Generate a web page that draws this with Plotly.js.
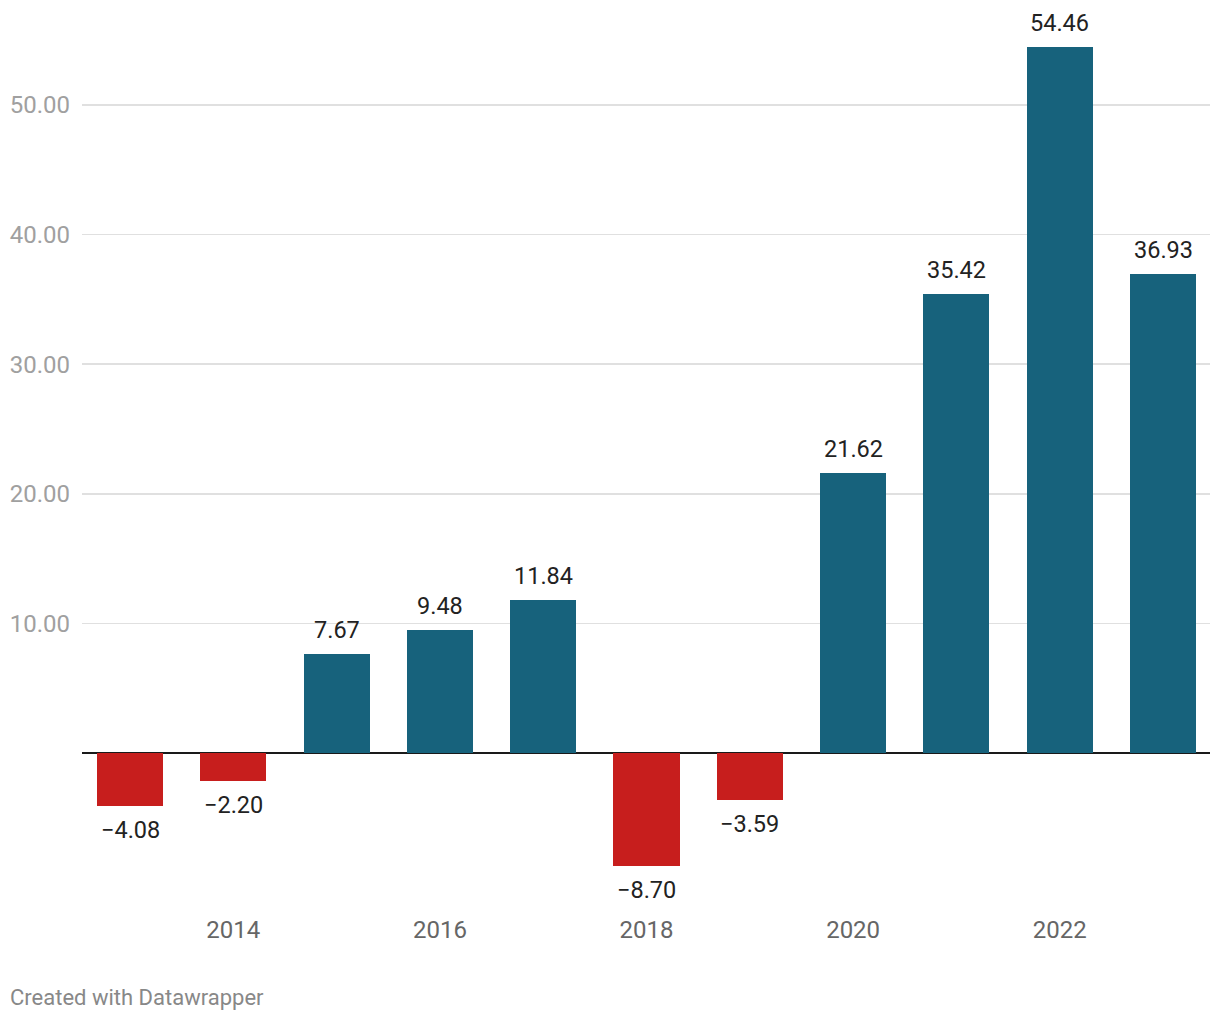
<!DOCTYPE html>
<html>
<head>
<meta charset="utf-8">
<script src="https://cdn.plot.ly/plotly-3.0.1.min.js"></script>
<style>
html,body{margin:0;padding:0;background:#fff;}
#chart{width:1220px;height:1020px;}
</style>
</head>
<body>
<div id="chart"></div>
<script>
const years = [2013, 2014, 2015, 2016, 2017, 2018, 2019, 2020, 2021, 2022, 2023];
const values = [-4.08, -2.20, 7.67, 9.48, 11.84, -8.70, -3.59, 21.62, 35.42, 54.46, 36.93];
const yTickVals = [10, 20, 30, 40, 50];
const yTickText = ["10.00", "20.00", "30.00", "40.00", "50.00"];
const xTickVals = [2014, 2016, 2018, 2020, 2022];
const xTickText = ["2014", "2016", "2018", "2020", "2022"];

const posColor = "#17627c";
const negColor = "#c71e1d";

const fmt = v => v.toFixed(2).replace("-", "\u2212");

const trace = {
  type: "bar",
  x: years,
  y: values,
  width: 0.64,
  marker: {color: values.map(v => v < 0 ? negColor : posColor)},
  hoverinfo: "x+y"
};

const annotations = years.map((yr, i) => ({
  x: yr,
  y: values[i],
  xref: "x",
  yref: "y",
  text: fmt(values[i]),
  showarrow: false,
  yanchor: values[i] < 0 ? "top" : "bottom",
  yshift: values[i] < 0 ? -8 : 8,
  font: {family: "Roboto, sans-serif", size: 23.5, color: "#222"}
}));

annotations.push({
  xref: "paper", yref: "paper",
  x: (8 - 82) / 1128, y: -(997 - 905) / 895,
  xanchor: "left", yanchor: "middle",
  text: "Created with Datawrapper",
  showarrow: false,
  font: {family: "Roboto, sans-serif", size: 22, color: "#888"}
});

const layout = {
  width: 1220,
  height: 1020,
  margin: {l: 82, r: 10, t: 10, b: 115},
  paper_bgcolor: "#fff",
  plot_bgcolor: "#fff",
  showlegend: false,
  bargap: 0,
  font: {family: "Roboto, sans-serif"},
  xaxis: {
    range: [2012.535, 2023.455],
    tickvals: xTickVals,
    ticktext: xTickText,
    showgrid: false,
    zeroline: false,
    showline: false,
    ticks: "",
    ticklabelstandoff: 8,
    tickfont: {family: "Roboto, sans-serif", size: 24, color: "#666"},
    fixedrange: true
  },
  yaxis: {
    range: [-11.73, 57.33],
    tickvals: yTickVals,
    ticktext: yTickText,
    showgrid: true,
    gridcolor: "#e0e0e0",
    gridwidth: 1.5,
    zeroline: true,
    zerolinecolor: "#1a1a1a",
    zerolinewidth: 2,
    showline: false,
    ticks: "",
    ticklabelstandoff: 11,
    tickfont: {family: "Roboto, sans-serif", size: 24, color: "#a0a0a0"},
    fixedrange: true
  },
  annotations: annotations
};

Plotly.newPlot("chart", [trace], layout, {displayModeBar: false, staticPlot: true});
</script>
</body>
</html>
